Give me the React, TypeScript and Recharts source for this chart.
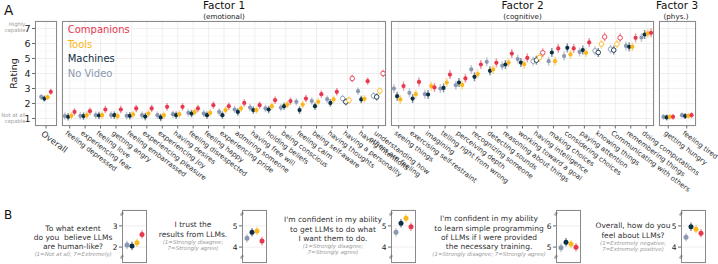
import React from 'react';
import { ScatterChart, Scatter, XAxis, YAxis, CartesianGrid, ErrorBar, ReferenceLine } from 'recharts';

const FONT = '"DejaVu Sans", Verdana, sans-serif';

// series order inside each group: No Video, Machines, Tools, Companions
const SERIES = ['No Video', 'Machines', 'Tools', 'Companions'];
const COLORS = ['#8c98b1', '#0d2f45', '#fbb617', '#e8384f'];
const LEGEND = ['Companions', 'Tools', 'Machines', 'No Video'];

// Overall
const overallLabels = ['Overall'];
const overallNoVideo = [2.44];
const overallMachines = [2.33];
const overallTools = [2.42];
const overallCompanions = [2.78];

// Factor 1 (emotional)
const factor1Labels = [
  'feeling depressed', 'experiencing fear', 'feeling love', 'getting angry', 'feeling embarrassed',
  'experiencing pleasure', 'experiencing joy', 'having desires', 'feeling disrespected', 'feeling happy',
  'experiencing pride', 'admiring someone', 'having free will', 'holding beliefs', 'being conscious',
  'feeling calm', 'being self-aware', 'having thoughts', 'having a personality', 'having intentions',
  'understanding how\nothers are feeling',
];
const f1NoVideo = [1.16, 1.18, 1.22, 1.22, 1.18, 1.22, 1.22, 1.29, 1.38, 1.33, 1.44, 1.6, 1.73, 1.67, 1.73, 2.11, 2.16, 2.29, 2.33, 2.82, 2.51];
const f1Machines = [1.11, 1.16, 1.2, 1.22, 1.18, 1.13, 1.07, 1.22, 1.33, 1.22, 1.22, 1.44, 1.56, 1.6, 1.82, 1.56, 1.82, 2.04, 2.11, 2.27, 2.44];
const f1Tools = [1.18, 1.22, 1.22, 1.16, 1.27, 1.33, 1.22, 1.29, 1.44, 1.38, 1.56, 1.67, 1.56, 1.82, 1.93, 1.93, 2.11, 2.27, 2.22, 2.31, 2.84];
const f1Companions = [1.44, 1.49, 1.6, 1.6, 1.67, 1.67, 1.78, 1.78, 1.67, 1.89, 1.82, 2.04, 1.89, 2.22, 2.16, 2.33, 2.62, 2.78, 3.67, 3.49, 4.0];
const f1Hollow = ['having a personality', 'understanding how\nothers are feeling'];

// Factor 2 (cognitive)
const factor2Labels = [
  'seeing things', 'exercising self-restraint', 'imagining', 'telling right from wrong', 'perceiving depth',
  'recognizing someone', 'detecting sounds', 'reasoning about things', 'working toward a goal',
  'having intelligence', 'making choices', 'considering choices', 'paying attention', 'knowing things',
  'Communicating with others', 'remembering things', 'doing computations',
];
const f2NoVideo = [3.0, 2.71, 2.62, 3.0, 3.22, 4.27, 4.78, 4.51, 4.96, 4.82, 4.82, 5.16, 5.44, 5.51, 5.62, 5.84, 6.4];
const f2Machines = [2.49, 2.33, 2.6, 3.04, 3.4, 3.78, 4.18, 4.6, 4.73, 4.89, 5.4, 5.71, 5.56, 5.4, 5.56, 5.78, 6.6];
const f2Tools = [2.27, 2.62, 3.16, 3.4, 3.24, 3.96, 4.27, 4.73, 4.62, 5.07, 4.82, 5.27, 5.38, 5.96, 5.96, 5.78, 6.67];
const f2Companions = [3.16, 3.44, 3.07, 3.93, 3.67, 4.6, 4.71, 5.33, 5.04, 5.38, 5.67, 5.67, 6.07, 6.44, 6.38, 6.38, 6.71];
const f2Hollow = ['having intelligence', 'knowing things', 'Communicating with others'];

// Factor 3 (physical)
const factor3Labels = ['getting hungry', 'feeling tired'];
const f3NoVideo = [1.11, 1.22];
const f3Machines = [1.07, 1.16];
const f3Tools = [1.11, 1.18];
const f3Companions = [1.11, 1.22];

const ratingTicks = [1, 2, 3, 4, 5, 6, 7];
const ratingMinor = [1.5, 2.5, 3.5, 4.5, 5.5, 6.5];

// Panel B
const bQuestions = [
  'To what extent\ndo you  believe LLMs\nare human-like?',
  'I trust the\nresults from LLMs.',
  "I'm confident in my ability\nto get LLMs to do what\nI want them to do.",
  "I'm confident in my ability\nto learn simple programming\nof LLMs if I were provided\nthe necessary training.",
  'Overall, how do you\nfeel about LLMs?',
];
const bScales = [
  '(1=Not at all; 7=Extremely)',
  '(1=Strongly disagree;\n7=Strongly agree)',
  '(1=Strongly disagree;\n7=Strongly agree)',
  '(1=Strongly disagree; 7=Strongly agree)',
  '(1=Extremely negative;\n7=Extremely positive)',
];
const bTicks = [[2, 3], [4, 5], [4, 5], [5, 6], [4, 5]];
const bNoVideo = [2.1, 4.42, 4.7, 4.97, 4.46];
const bMachines = [2.05, 4.7, 5.12, 5.23, 4.96];
const bTools = [2.21, 4.76, 5.36, 5.15, 4.84];
const bCompanions = [2.6, 4.29, 4.96, 4.99, 4.65];

// layout
const TOP = 21;
const PLOT_H = 105;
const LABEL_SPACE = 82;
const DODGE_TOP = [-4.8, -1.6, 1.6, 4.8];
const DODGE_B = [-7.5, -2.5, 2.5, 7.5];
const bBoxLeft = [122, 242, 391, 556, 681];
const bTextX = [73, 193, 333, 489, 633];
const bTextTop = [223.6, 220.4, 215.4, 214.4, 221.4];

const AngledTick = (props: any) => {
  const { x, y, payload, labels, fontSize } = props;
  const text: string = labels[Math.round(payload.value) - 1] || '';
  const ax = x - 1.5;
  const ay = y - 1;
  return (
    <text x={ax} y={ay} transform={`rotate(37 ${ax} ${ay})`} fontSize={fontSize} fill="#333" fontFamily={FONT} textAnchor="start">
      {text.split('\n').map((line, i) => (
        <tspan key={i} x={ax} dy={i === 0 ? fontSize * 0.8 : fontSize * 1.1}>{line}</tspan>
      ))}
    </text>
  );
};

const dotShape = (color: string, r: number) => (props: any) => {
  const { cx, cy } = props;
  if (cx == null || cy == null) return <g />;
  const p = props.payload ?? props;
  if (p.hollow) {
    return <circle cx={cx} cy={cy} r={r + 0.2} fill="#fff" stroke={color} strokeWidth={0.9} />;
  }
  return <circle cx={cx} cy={cy} r={r} fill={color} />;
};

interface PanelProps {
  left: number;
  top: number;
  width: number;
  height: number;
  labelSpace: number;
  yAxisWidth?: number;
  labels: string[];
  series: number[][];
  hollow?: string[];
  err: number;
  domain: [number, number];
  yTicks: number[];
  minor?: number[];
  vertical?: boolean;
  showX?: boolean;
  showY?: boolean;
  tickFont?: number;
  yTickFont?: number;
  dodge: number[];
  r: number;
}

const Panel: React.FC<PanelProps> = ({
  left, top, width, height, labelSpace, yAxisWidth = 0, labels, series, hollow = [], err, domain,
  yTicks, minor = [], vertical = true, showX = true, showY = false, tickFont = 7, yTickFont = 9.5, dodge, r,
}) => {
  const n = labels.length;
  const band = width / n;
  const ticksX = labels.map((_, i) => i + 1);
  return (
    <div style={{ position: 'absolute', left, top }}>
      <ScatterChart width={yAxisWidth + width} height={height + labelSpace} margin={{ top: 0, right: 0, bottom: 0, left: 0 }}>
        <CartesianGrid stroke="#e8e8e8" strokeWidth={0.7} vertical={vertical} />
        {minor.map(v => (
          <ReferenceLine key={v} y={v} stroke="#f3f3f3" strokeWidth={0.5} />
        ))}
        <XAxis
          type="number"
          dataKey="x"
          domain={[0.5, n + 0.5]}
          ticks={ticksX}
          interval={0}
          height={labelSpace}
          hide={!showX}
          axisLine={false}
          tickSize={2.5}
          tickLine={{ stroke: '#444', strokeWidth: 0.8 }}
          tick={(p: any) => <AngledTick {...p} labels={labels} fontSize={tickFont} />}
          allowDataOverflow
        />
        <YAxis
          type="number"
          dataKey="y"
          domain={domain}
          ticks={yTicks}
          interval={0}
          width={yAxisWidth}
          hide={!showY}
          axisLine={false}
          tickSize={3}
          tickMargin={1.5}
          tickLine={{ stroke: '#444', strokeWidth: 0.8 }}
          tick={{ fontSize: yTickFont, fill: '#222', fontFamily: FONT }}
          allowDataOverflow
        />
        {series.map((vals, s) => (
          <Scatter
            key={SERIES[s]}
            name={SERIES[s]}
            data={labels.map((lab, i) => ({
              x: i + 1 + dodge[s] / band,
              y: vals[i],
              err,
              hollow: hollow.includes(lab),
            }))}
            fill={COLORS[s]}
            shape={dotShape(COLORS[s], r)}
            isAnimationActive={false}
          >
            <ErrorBar dataKey="err" direction="y" width={0} stroke={COLORS[s]} strokeWidth={1.5} strokeOpacity={0.5} />
          </Scatter>
        ))}
      </ScatterChart>
      <div
        style={{
          position: 'absolute',
          left: yAxisWidth,
          top: 0,
          width,
          height,
          border: '1px solid #8a8a8a',
          boxSizing: 'border-box',
          pointerEvents: 'none',
        }}
      />
    </div>
  );
};

const App: React.FC = () => {
  const topDomain: [number, number] = [0.5, 7.5];
  return (
    <div style={{ position: 'absolute', left: 0, top: 0, width: 718, height: 264, background: '#fff', overflow: 'hidden', fontFamily: FONT }}>
      <style>{'.recharts-surface{overflow:visible}'}</style>

      <Panel left={0} top={TOP} yAxisWidth={35} width={22} height={PLOT_H} labelSpace={LABEL_SPACE}
        labels={overallLabels} series={[overallNoVideo, overallMachines, overallTools, overallCompanions]}
        err={0.2} domain={topDomain} yTicks={ratingTicks} minor={ratingMinor} showY tickFont={8.5}
        dodge={DODGE_TOP} r={2.1} />
      <Panel left={62} top={TOP} width={324} height={PLOT_H} labelSpace={LABEL_SPACE}
        labels={factor1Labels} series={[f1NoVideo, f1Machines, f1Tools, f1Companions]} hollow={f1Hollow}
        err={0.25} domain={topDomain} yTicks={ratingTicks} minor={ratingMinor} dodge={DODGE_TOP} r={2.1} />
      <Panel left={391} top={TOP} width={263} height={PLOT_H} labelSpace={LABEL_SPACE}
        labels={factor2Labels} series={[f2NoVideo, f2Machines, f2Tools, f2Companions]} hollow={f2Hollow}
        err={0.3} domain={topDomain} yTicks={ratingTicks} minor={ratingMinor} dodge={DODGE_TOP} r={2.1} />
      <Panel left={659} top={TOP} width={37} height={PLOT_H} labelSpace={LABEL_SPACE}
        labels={factor3Labels} series={[f3NoVideo, f3Machines, f3Tools, f3Companions]}
        err={0.2} domain={topDomain} yTicks={ratingTicks} minor={ratingMinor} dodge={DODGE_TOP} r={2.1} />

      {bQuestions.map((_, k) => (
        <Panel key={k} left={bBoxLeft[k] - 14} top={210} yAxisWidth={14} width={25} height={53} labelSpace={0}
          labels={['']} series={[[bNoVideo[k]], [bMachines[k]], [bTools[k]], [bCompanions[k]]]}
          err={0.2} domain={[bTicks[k][0] - 0.75, bTicks[k][1] + 0.75]} yTicks={bTicks[k]}
          vertical={false} showX={false} showY yTickFont={7.5} dodge={DODGE_B} r={2.5} />
      ))}

      {bQuestions.map((q, k) => (
        <div key={k} style={{ position: 'absolute', left: bTextX[k] - 80, top: bTextTop[k], width: 160, textAlign: 'center', whiteSpace: 'pre' }}>
          <div style={{ fontSize: 7.5, lineHeight: '9.2px', color: '#333' }}>{q}</div>
          <div style={{ fontSize: 5.5, lineHeight: '6.2px', color: '#9a9a9a', fontStyle: 'italic' }}>{bScales[k]}</div>
        </div>
      ))}

      <svg width={718} height={264} style={{ position: 'absolute', left: 0, top: 0, pointerEvents: 'none' }} fontFamily={FONT}>
        <text x={4} y={14.5} fontSize={13.5} fill="#111">A</text>
        <text x={4} y={219} fontSize={12} fill="#111">B</text>
        <text x={14} y={73.5} fontSize={9.5} fill="#222" textAnchor="middle" transform="rotate(-90 14 73.5)" dominantBaseline="middle">Rating</text>
        <text x={25.5} y={25.5} fontSize={5.3} fill="#999" textAnchor="end">Highly</text>
        <text x={25.5} y={31.5} fontSize={5.3} fill="#999" textAnchor="end">capable</text>
        <text x={25.5} y={116.5} fontSize={5.3} fill="#999" textAnchor="end">Not at all</text>
        <text x={25.5} y={122.5} fontSize={5.3} fill="#999" textAnchor="end">capable</text>

        <text x={224} y={9} fontSize={10.5} fill="#111" textAnchor="middle">Factor 1</text>
        <text x={224} y={18.6} fontSize={7.2} fill="#222" textAnchor="middle">(emotional)</text>
        <text x={522.5} y={9} fontSize={10.5} fill="#111" textAnchor="middle">Factor 2</text>
        <text x={522.5} y={18.6} fontSize={7.2} fill="#222" textAnchor="middle">(cognitive)</text>
        <text x={677} y={9} fontSize={10.5} fill="#111" textAnchor="middle">Factor 3</text>
        <text x={676} y={18.6} fontSize={7.2} fill="#222" textAnchor="middle">(phys.)</text>

        {LEGEND.map((name, i) => (
          <text key={name} x={67.7} y={33.3 + i * 14.5} fontSize={10} fill={COLORS[SERIES.indexOf(name)]}>{name}</text>
        ))}

        {bBoxLeft.map(x => (
          <g key={x}>
            <text x={x} y={216} fontSize={6.5} fill="#555" textAnchor="middle" transform={`rotate(-60 ${x} 214)`}>≈</text>
            <text x={x} y={259} fontSize={6.5} fill="#555" textAnchor="middle" transform={`rotate(-60 ${x} 257)`}>≈</text>
          </g>
        ))}
      </svg>
    </div>
  );
};

export default App;
